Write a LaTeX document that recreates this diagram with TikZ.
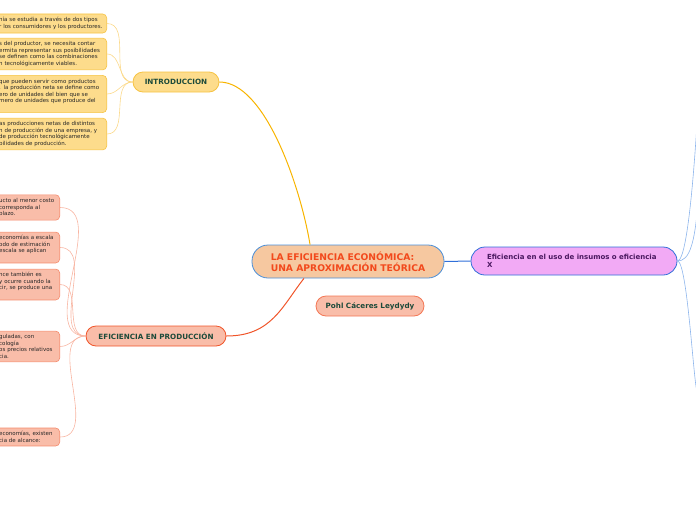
\documentclass[tikz,border=0pt]{standalone}
\usepackage{fontspec}
\setmainfont{DejaVu Sans}
\usepackage{tikz}

\definecolor{introfill}{HTML}{FDDC8C}
\definecolor{introline}{HTML}{F6C343}
\definecolor{introlink}{HTML}{F8B400}
\definecolor{childlink}{HTML}{FBD98A}
\definecolor{prodfill}{HTML}{F9BDA9}
\definecolor{prodline}{HTML}{F58A6C}
\definecolor{prodlink}{HTML}{F0552A}
\definecolor{pchildlink}{HTML}{F8B5A2}
\definecolor{mainfill}{HTML}{F6C8A0}
\definecolor{mainline}{HTML}{4A8FD8}
\definecolor{maintext}{HTML}{F2491C}
\definecolor{efffill}{HTML}{F2AAF5}
\definecolor{effline}{HTML}{2F6FD9}
\definecolor{efftext}{HTML}{4A1860}
\definecolor{efflink}{HTML}{8DB5EC}
\definecolor{titletext}{HTML}{1C4A3A}

\begin{document}
\begin{tikzpicture}[
    x=1pt, y=-1pt,
    leaf/.style={rounded corners=4pt, anchor=east, align=left, line width=0.6pt,
        inner xsep=4pt, inner ysep=3.5pt, text=black!85,
        font=\fontsize{5.5}{6.5}\selectfont},
    ybox/.style={leaf, draw=introline, fill=introfill, text width=103.5pt},
    pbox/.style={leaf, draw=prodline, fill=prodfill, text width=56.5pt},
    topic/.style={rounded corners=10pt, line width=0.8pt, minimum height=20pt,
        text=titletext, font=\bfseries\fontsize{7.2}{8}\selectfont},
    ylink/.style={childlink, line width=0.6pt},
    plink/.style={pchildlink, line width=0.6pt}
]
    \useasboundingbox (0,0) rectangle (696,520);
    \clip (0,0) rectangle (696,520);

    % central topic
    \node[draw=mainline, fill=mainfill, rounded corners=16pt, line width=0.8pt,
        minimum width=192pt, minimum height=33pt, align=left, text=maintext,
        font=\bfseries\fontsize{9.2}{11}\selectfont] (main) at (348,261.5)
        {LA EFICIENCIA ECONÓMICA:\\UNA APROXIMACIÓN TEÓRICA};
    \node[topic, draw=prodlink!80, fill=prodfill, minimum width=108pt] (author) at (370,306)
        {Pohl Cáceres Leydydy};

    % introduccion
    \node[topic, draw=introline, fill=introfill, minimum width=86pt] (intro) at (176,82) {INTRODUCCION};
    \node[ybox] (y1) at (107,23.5) {nía se estudia a través de dos tipos\\\mbox{r los consumidores y los productores.}};
    \node[ybox] (y2) at (107,54) {s del productor, se necesita contar\\\mbox{ermita representar sus posibilidades}\\se definen como las combinaciones\\n tecnológicamente viables.};
    \node[ybox] (y3) at (107,94) {que pueden servir como productos\\\mbox{. la producción neta se define como}\\ero de unidades del bien que se\\mero de unidades que produce del\\\mbox{}};
    \node[ybox] (y4) at (107,134) {as producciones netas de distintos\\n de producción de una empresa, y\\de producción tecnológicamente\\bilidades de producción.};
    \foreach \i in {1,...,4}
        \draw[ylink] (intro.west) to[out=180, in=0] (y\i.east);

    % eficiencia en produccion
    \node[topic, draw=prodlink, fill=prodfill, minimum width=140pt] (prod) at (156,336) {EFICIENCIA EN PRODUCCIÓN};
    \node[pbox] (p1) at (60,207.5) {ucto al menor costo\\corresponda al\\plazo.};
    \node[pbox] (p2) at (60,247.5) {economías a escala\\odo de estimación\\escala se aplican\\\mbox{}};
    \node[pbox] (p3) at (60,284.5) {nce también es\\y ocurre cuando la\\cir, se produce una\\\mbox{}};
    \node[pbox] (p4) at (60,346.5) {guladas, con\\cología\\\mbox{os precios relativos}\\cia.};
    \node[pbox] (p5) at (60,437) {economías, existen\\cia de alcance:};
    \foreach \i in {1,...,5}
        \draw[plink] (prod.west) to[out=180, in=0] (p\i.east);

    % eficiencia x
    \node[draw=effline, fill=efffill, rounded corners=14pt, line width=0.8pt,
        minimum width=206pt, minimum height=28pt, align=left, text width=174pt,
        text=efftext, font=\bfseries\fontsize{7}{8.5}\selectfont] (eff) at (574,261)
        {Eficiencia en el uso de insumos o eficiencia\\X};
    \coordinate (r1) at (700,70);
    \coordinate (r2) at (699,185);
    \coordinate (r3) at (699,380);
    \foreach \r in {r1,r2,r3}
        \draw[efflink, line width=0.6pt] (eff.east) .. controls +(12,0) and +(-3,60) .. (\r);

    % main branches
    \draw[introlink, line width=1pt] (intro.east) .. controls +(45,0) and +(-10,-60) .. (main.156);
    \draw[prodlink, line width=1pt] (prod.east) .. controls +(45,0) and +(-22,28) .. (main.201);
    \draw[effline, line width=1pt] (main.east) -- (eff.west);
\end{tikzpicture}
\end{document}
